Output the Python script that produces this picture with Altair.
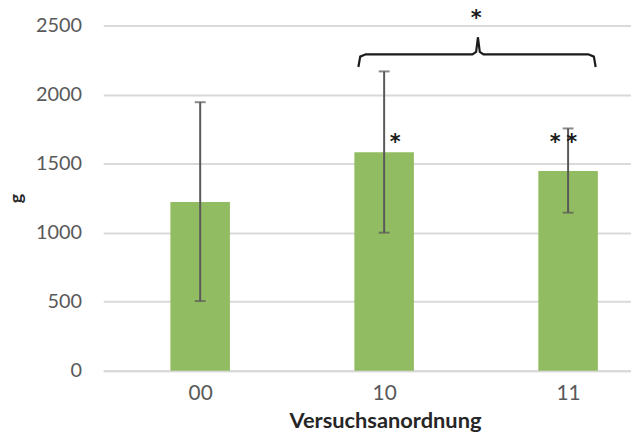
import altair as alt
import pandas as pd

categories = ["00", "10", "11"]
means = [1222, 1582, 1446]
err_low = [505, 1000, 1145]
err_high = [1945, 2168, 1755]

# significance annotations
star_labels = ["*", "*", "*", "*"]
star_x = [1.06, 1.93, 2.02, 1.50]
star_y = [1685, 1685, 1685, 2585]

# bracket between 10 and 11 (x in category index units, y in g)
bracket_group = ["L"] * 6 + ["R"] * 6
bracket_order = list(range(6)) * 2
bracket_x = [0.86, 0.87, 0.90, 1.48, 1.50, 1.51,
             2.15, 2.14, 2.11, 1.54, 1.52, 1.51]
bracket_y = [2200, 2275, 2292, 2292, 2310, 2415,
             2200, 2275, 2292, 2292, 2310, 2415]

FONT = "Lato"
GRAY = "#595959"

df = pd.DataFrame({"pos": list(range(len(categories))), "cat": categories,
                   "mean": means, "lo": err_low, "hi": err_high})
stars = pd.DataFrame({"x": star_x, "y": star_y, "t": star_labels})
bracket = pd.DataFrame({"g": bracket_group, "o": bracket_order,
                        "x": bracket_x, "y": bracket_y})

label_expr = "[" + ",".join(f"'{c}'" for c in categories) + "][datum.value]"

xscale = alt.Scale(domain=[-0.5, 2.315], nice=False, zero=False)
yscale = alt.Scale(domain=[0, 2500], nice=False)

x_enc = alt.X("pos:Q", scale=xscale,
              axis=alt.Axis(values=[0, 1, 2], labelExpr=label_expr, grid=False,
                            ticks=False, domain=True, domainColor="#d9d9d9",
                            domainWidth=2, labelFontSize=21, labelColor=GRAY,
                            labelFont=FONT, labelPadding=12,
                            title="Versuchsanordnung", titleFont=FONT,
                            titleFontSize=22, titleFontWeight="bold",
                            titleColor="#262626", titleX=284, titlePadding=7))
y_enc = alt.Y("mean:Q", scale=yscale,
              axis=alt.Axis(values=[0, 500, 1000, 1500, 2000, 2500], grid=True,
                            format="d",
                            gridColor="#d9d9d9", gridWidth=2, domain=False,
                            ticks=False, labelFontSize=20, labelColor=GRAY,
                            labelFont=FONT, labelPadding=22, title="g",
                            titleFont=FONT, titleFontSize=18,
                            titleFontWeight="bold", titleColor="#262626",
                            titlePadding=10))

bars = alt.Chart(df).mark_bar(size=60, color="#92bc61").encode(x=x_enc, y=y_enc)

err = alt.Chart(df).mark_rule(color=GRAY, strokeWidth=2).encode(
    x="pos:Q", y="lo:Q", y2="hi:Q")
caps_lo = alt.Chart(df).mark_tick(color=GRAY, orient="horizontal", size=11,
                                  thickness=2).encode(x="pos:Q", y="lo:Q")
caps_hi = alt.Chart(df).mark_tick(color=GRAY, orient="horizontal", size=11,
                                  thickness=2).encode(x="pos:Q", y="hi:Q")

br = alt.Chart(bracket).mark_line(color="#1a1a1a", strokeWidth=2.2).encode(
    x="x:Q", y="y:Q", detail="g:N", order="o:Q")

st = alt.Chart(stars).mark_text(font="DejaVu Sans", fontSize=21,
                                fontWeight="bold", color="#1a1a1a",
                                baseline="alphabetic", dy=11).encode(
    x="x:Q", y="y:Q", text="t:N")

chart = alt.layer(bars, err, caps_lo, caps_hi, br, st).properties(
    width=532, height=348,
    autosize=alt.AutoSizeParams(type="none"),
    padding={"left": 96, "top": 16, "right": 0, "bottom": 60},
).configure_view(stroke=None)

chart.save("out.html", embed_options={"renderer": "svg", "actions": False})
